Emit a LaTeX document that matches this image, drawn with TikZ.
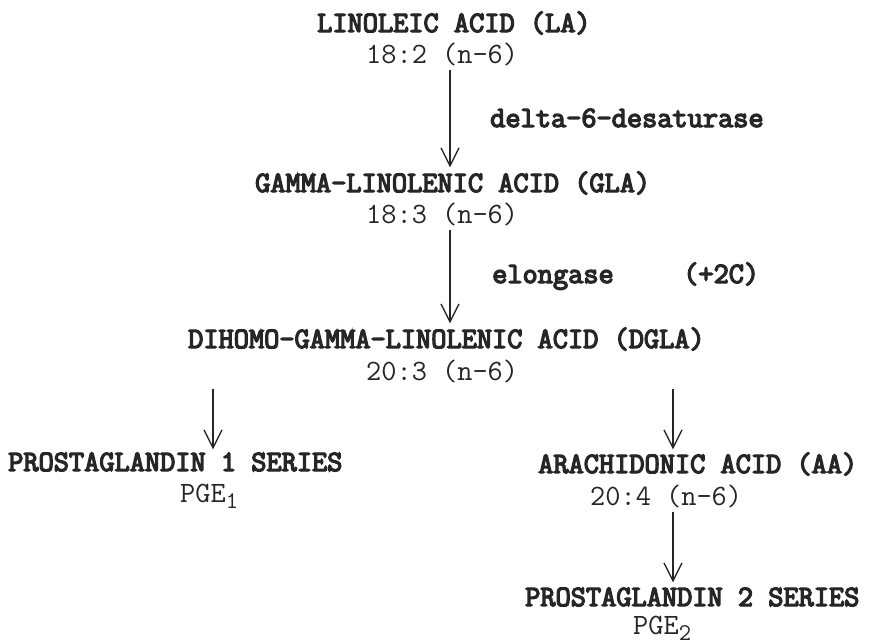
\documentclass[tikz,border=0pt]{standalone}
\usepackage{fontspec}
\setmonofont{Latin Modern Mono}
\newfontfamily\boldmono{Latin Modern Mono}[FakeBold=4.5]
\usetikzlibrary{arrows.meta}
\tikzset{
  nm/.style={font=\boldmono\fontsize{29.5}{32}\selectfont, text=black!85, inner sep=0pt, anchor=base west},
  fm/.style={font=\ttfamily\fontsize{29.5}{32}\selectfont, text=black!85, inner sep=0pt, anchor=base west},
  arr/.style={draw=black!85, line width=1.3pt, -{Straight Barb[length=18pt,width=18pt,line width=1.3pt]}},
}
\newcommand{\subsc}[1]{\raisebox{-6pt}{\fontsize{24}{26}\selectfont #1}}
\begin{document}
\begin{tikzpicture}[x=1pt,y=-1pt]
\useasboundingbox (0,0) rectangle (873,640);
\node[nm] (la) at (317,32) {LINOLEIC ACID (LA)};
\node[fm] (la2) at (366,63) {18:2 (n-6)};
\node[nm] (dsat) at (490,127) {delta-6-desaturase};
\node[nm] (gla) at (255,192) {GAMMA-LINOLENIC ACID (GLA)};
\node[fm] (gla2) at (366,223) {18:3 (n-6)};
\node[nm] (elo) at (492,283) {elongase};
\node[nm] (plus) at (683,283) {(+2C)};
\node[nm] (dgla) at (188,348) {DIHOMO-GAMMA-LINOLENIC ACID (DGLA)};
\node[fm] (dgla2) at (366,380) {20:3 (n-6)};
\node[nm] (pg1) at (8,471) {PROSTAGLANDIN 1 SERIES};
\node[fm] (pge1) at (180,502) {PGE\subsc{1}};
\node[nm] (aa) at (538,473) {ARACHIDONIC ACID (AA)};
\node[fm] (aa2) at (590,505) {20:4 (n-6)};
\node[nm] (pg2) at (525,606) {PROSTAGLANDIN 2 SERIES};
\node[fm] (pge2) at (633,634) {PGE\subsc{2}};
\coordinate (x1) at (450,0);
\coordinate (xl) at (213,0);
\coordinate (xr) at (673,0);
\draw[arr] ([yshift=-4pt]la2.south -| x1) -- ([yshift=4pt]gla.north -| x1);
\draw[arr] ([yshift=-4pt]gla2.south -| x1) -- ([yshift=4pt]dgla.north -| x1);
\draw[arr] ([yshift=-6pt]dgla2.south -| xl) -- ([yshift=3pt]pg1.north -| xl);
\draw[arr] ([yshift=-6pt]dgla2.south -| xr) -- ([yshift=3pt]aa.north -| xr);
\draw[arr] ([yshift=-4pt]aa2.south -| xr) -- ([yshift=5pt]pg2.north -| xr);
\end{tikzpicture}
\end{document}
